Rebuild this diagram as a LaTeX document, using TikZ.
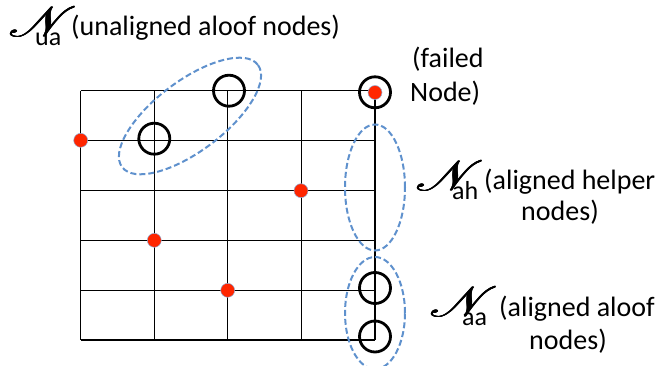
\documentclass[tikz,border=0pt]{standalone}
\usepackage{fontspec}
\usepackage{graphicx}
\setmainfont{Carlito}
\usetikzlibrary{shapes.geometric}
\DeclareFontFamily{U}{myrsfs}{}
\DeclareFontShape{U}{myrsfs}{m}{n}{<-> rsfs10}{}
\newcommand\scrN{\scalebox{1.3}[1]{\fontsize{42}{42}\usefont{U}{myrsfs}{m}{n}%
  \rlap{N}\rlap{\kern0.6pt N}\rlap{\raisebox{0.6pt}{N}}\rlap{\kern0.3pt\raisebox{0.3pt}{N}}\kern0.6pt\raisebox{0.6pt}{N}}}
\definecolor{grpblue}{RGB}{95,145,205}
\definecolor{dotred}{RGB}{255,38,0}
\tikzset{
  gridline/.style={line width=1.1pt, black},
  ringnode/.style={circle, draw=black, line width=2.8pt, minimum size=31pt, inner sep=0pt},
  reddot/.style={circle, fill=dotred, draw=grpblue!70, line width=0.5pt, minimum size=14pt, inner sep=0pt},
  grp/.style={ellipse, draw=grpblue, line width=2pt, dash pattern=on 6pt off 3pt, inner sep=0pt},
  lbl/.style={anchor=base west, inner sep=0pt, font=\fontsize{28}{34}\selectfont},
  sublbl/.style={anchor=base west, inner sep=0pt, font=\fontsize{26}{30}\selectfont},
  scr/.style={anchor=base west, inner sep=0pt},
}
\begin{document}
\begin{tikzpicture}[x=1pt, y=-1pt]
\useasboundingbox (0,0) rectangle (665,366);
% grid
\foreach \i in {0,...,4}
  \draw[gridline] (80.7+73.575*\i,90.7) -- (80.7+73.575*\i,340);
\foreach \j in {0,...,5}
  \draw[gridline] (80.7,90.7+49.86*\j) -- (375,90.7+49.86*\j);
% groups
\node[grp, minimum width=170pt, minimum height=70pt, rotate=37] (gua) at (190,116) {};
\node[grp, minimum width=60pt, minimum height=126pt] (gah) at (375,187.5) {};
\node[grp, minimum width=60pt, minimum height=112pt] (gaa) at (375,313) {};
% red dots
\node[reddot] (d1) at (80.7,140.3) {};
\node[reddot] (d2) at (301,190.7) {};
\node[reddot] (d3) at (154.3,240.3) {};
\node[reddot] (d4) at (227.7,290.3) {};
\node[reddot] (df) at (375,92.5) {};
% rings
\node[ringnode] (u1) at (229,90.7) {};
\node[ringnode] (u2) at (154.3,138.7) {};
\node[ringnode] (fn) at (375,92.3) {};
\node[ringnode] (a1) at (375,288) {};
\node[ringnode] (a2) at (375,336.5) {};
% labels
\node[scr] (nua) at (8,37) {\scrN};
\node[sublbl] (sua) at (35,46) {ua};
\node[lbl] (tua) at (71,36) {(unaligned aloof nodes)};
\node[lbl] (tf1) at (412,68) {(failed};
\node[lbl] (tf2) at (410,102) {Node)};
\node[scr] (nah) at (415,191) {\scrN};
\node[sublbl] (sah) at (452,200) {ah};
\node[lbl] (tah1) at (484,190) {(aligned helper};
\node[lbl] (tah2) at (521,221) {nodes)};
\node[scr] (naa) at (429,317) {\scrN};
\node[sublbl] (saa) at (462,326) {aa};
\node[lbl] (taa1) at (499,317) {(aligned aloof};
\node[lbl] (taa2) at (529,350) {nodes)};
\end{tikzpicture}
\end{document}
